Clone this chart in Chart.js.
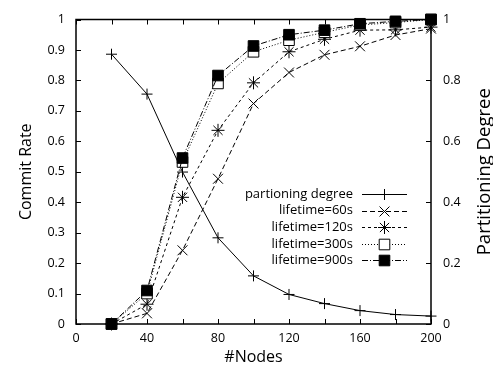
<!DOCTYPE html>
<html><head><meta charset="utf-8">
<script src="https://cdn.jsdelivr.net/npm/chart.js@4/dist/chart.umd.min.js"></script>
<style>html,body{margin:0;padding:0;background:#fff}#wrap{width:493px;height:370px}</style>
</head><body><div id="wrap"><canvas id="c" width="493" height="370"></canvas></div>
<script>
const nodes = [20, 40, 60, 80, 100, 120, 140, 160, 180, 200];
const partitioning = [0.886, 0.755, 0.499, 0.283, 0.158, 0.097, 0.067, 0.044, 0.031, 0.026];
const life60  = [0, 0.035, 0.242, 0.477, 0.724, 0.826, 0.884, 0.912, 0.949, 0.970];
const life120 = [0, 0.065, 0.416, 0.636, 0.792, 0.894, 0.935, 0.965, 0.966, 0.975];
const life300 = [0, 0.100, 0.532, 0.790, 0.894, 0.932, 0.958, 0.982, 0.990, 1.0];
const life900 = [0, 0.110, 0.545, 0.816, 0.913, 0.950, 0.965, 0.986, 0.994, 1.0];
const seriesLabels = ['partioning degree', 'lifetime=60s', 'lifetime=120s', 'lifetime=300s', 'lifetime=900s'];
const xTicks = [0, 40, 80, 120, 160, 200];
const yLeftTicks = [0, 0.1, 0.2, 0.3, 0.4, 0.5, 0.6, 0.7, 0.8, 0.9, 1];
const yRightTicks = [0, 0.2, 0.4, 0.6, 0.8, 1];

const FONT = "'Open Sans', sans-serif";
const pts = arr => nodes.map((n, i) => ({x: n, y: arr[i]}));

const base = {borderColor: '#000', borderWidth: 1, pointBorderColor: '#000', pointBorderWidth: 1, tension: 0, clip: false, fill: false};
const datasets = [
  Object.assign({}, base, {label: seriesLabels[0], data: pts(partitioning), yAxisID: 'y1', order: 4, pointStyle: 'cross', pointRadius: 5.5, pointBackgroundColor: '#000', borderDash: []}),
  Object.assign({}, base, {label: seriesLabels[1], data: pts(life60), yAxisID: 'y', order: 3, pointStyle: 'crossRot', pointRadius: 7, pointBackgroundColor: '#000', borderDash: [5, 3]}),
  Object.assign({}, base, {label: seriesLabels[2], data: pts(life120), yAxisID: 'y', order: 2, pointStyle: 'star', pointRadius: 6.5, pointBackgroundColor: '#000', borderDash: [3, 3]}),
  Object.assign({}, base, {label: seriesLabels[3], data: pts(life300), yAxisID: 'y', order: 1, pointStyle: 'rect', pointRadius: 7.5, pointBackgroundColor: '#fff', borderDash: [1, 2]}),
  Object.assign({}, base, {label: seriesLabels[4], data: pts(life900), yAxisID: 'y', order: 0, pointStyle: 'rect', pointRadius: 7.5, pointBackgroundColor: '#000', borderDash: [6, 2, 1, 2]})
];

const frame = {
  id: 'frame',
  beforeDatasetsDraw(chart) {
    const {ctx, chartArea: a, scales} = chart;
    ctx.save();
    ctx.strokeStyle = '#000';
    ctx.lineWidth = 1.5;
    ctx.strokeRect(a.left, a.top, a.right - a.left, a.bottom - a.top);
    ctx.lineWidth = 1;
    ctx.beginPath();
    const tl = 5;
    for (let v = 0; v <= 200; v += 20) {
      const x = Math.round(scales.x.getPixelForValue(v)) + 0.5;
      ctx.moveTo(x, a.bottom); ctx.lineTo(x, a.bottom - tl);
      ctx.moveTo(x, a.top); ctx.lineTo(x, a.top + tl);
    }
    yLeftTicks.forEach(v => {
      const y = Math.round(scales.y.getPixelForValue(v)) + 0.5;
      ctx.moveTo(a.left, y); ctx.lineTo(a.left + tl, y);
    });
    yRightTicks.forEach(v => {
      const y = Math.round(scales.y1.getPixelForValue(v)) + 0.5;
      ctx.moveTo(a.right, y); ctx.lineTo(a.right - tl, y);
    });
    ctx.stroke();
    ctx.restore();
  },
  afterDraw(chart) {
    const {ctx, chartArea: a} = chart;
    ctx.save();
    ctx.fillStyle = '#000';
    ctx.font = '18.5px ' + FONT;
    ctx.textAlign = 'center';
    ctx.textBaseline = 'middle';
    ctx.translate(485, (a.top + a.bottom) / 2);
    ctx.rotate(-Math.PI / 2);
    ctx.fillText('Partitioning Degree', 0, 0);
    ctx.restore();
    ctx.save();
    ctx.font = '13px ' + FONT;
    ctx.textAlign = 'right';
    ctx.textBaseline = 'middle';
    chart.data.datasets.forEach((d, i) => {
      const y = 194 + i * 16.6;
      ctx.fillStyle = '#000';
      ctx.fillText(d.label, 353, y);
      ctx.strokeStyle = '#000';
      ctx.lineWidth = 1;
      ctx.setLineDash(d.borderDash || []);
      ctx.beginPath();
      ctx.moveTo(362, Math.round(y) + 0.5); ctx.lineTo(407, Math.round(y) + 0.5);
      ctx.stroke();
      ctx.setLineDash([]);
      ctx.fillStyle = d.pointBackgroundColor;
      ctx.strokeStyle = d.pointBorderColor;
      Chart.helpers.drawPoint(ctx, {pointStyle: d.pointStyle, radius: d.pointRadius, borderWidth: 1, rotation: 0}, 384.5, Math.round(y) + 0.5);
    });
    ctx.restore();
  }
};

new Chart(document.getElementById('c'), {
  type: 'line',
  data: {datasets},
  options: {
    responsive: false,
    animation: false,
    devicePixelRatio: 1,
    layout: {padding: {top: 14, left: 0, right: 0, bottom: 0}},
    plugins: {legend: {display: false}, tooltip: {enabled: false}},
    scales: {
      x: {
        type: 'linear', min: 0, max: 200,
        afterBuildTicks: s => { s.ticks = xTicks.map(v => ({value: v})); },
        afterFit: s => { s.height = 46; },
        ticks: {color: '#000', font: {family: FONT, size: 12.5}, padding: 7, maxRotation: 0, autoSkip: false},
        grid: {display: false, drawTicks: false},
        border: {display: false},
        title: {display: true, text: '#Nodes', color: '#000', font: {family: FONT, size: 16}, padding: {top: 0, bottom: 3}}
      },
      y: {
        type: 'linear', position: 'left', min: 0, max: 1,
        afterBuildTicks: s => { s.ticks = yLeftTicks.map(v => ({value: v})); },
        afterFit: s => { s.width = 76; },
        ticks: {color: '#000', font: {family: FONT, size: 12.5}, padding: 11, autoSkip: false, callback: v => String(Math.round(v * 10) / 10)},
        grid: {display: false, drawTicks: false},
        border: {display: false},
        title: {display: true, text: 'Commit Rate', color: '#000', font: {family: FONT, size: 16}, padding: {top: 17, bottom: 0}}
      },
      y1: {
        type: 'linear', position: 'right', min: 0, max: 1,
        afterBuildTicks: s => { s.ticks = yRightTicks.map(v => ({value: v})); },
        afterFit: s => { s.width = 62; },
        ticks: {color: '#000', font: {family: FONT, size: 12.5}, padding: 12, autoSkip: false, callback: v => String(Math.round(v * 10) / 10)},
        grid: {display: false, drawTicks: false},
        border: {display: false}
      }
    }
  },
  plugins: [frame]
});
</script>
</body></html>
